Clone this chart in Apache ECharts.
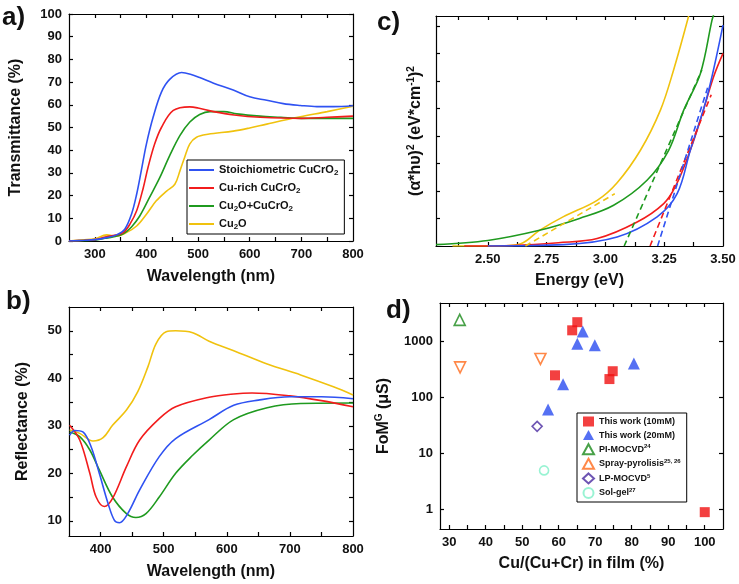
<!DOCTYPE html>
<html>
<head>
<meta charset="utf-8">
<script src="https://cdn.jsdelivr.net/npm/echarts@6/dist/echarts.min.js"></script>
<style>
  html, body { margin: 0; background: #fff; }
  #chart { width: 739px; height: 584px; }
</style>
</head>
<body>
<div id="chart"></div>
<script>
// a) transmittance, [wavelength nm, %]
var transStoich = [[250,0],[280,0.3],[300,0.6],[323,1.5],[342,2.7],[358,5.2],[371,11.8],[381,20.6],[390,31],[400,42.8],[413,54.6],[429,65.6],[445,71.2],[468,74.2],[485,73.5],[503,72],[530,69.5],[568,66.5],[600,63.5],[633,62],[665,60.5],[698,59.7],[730,59.2],[762,59.2],[800,59.6]]
var transCuRich = [[250,0],[280,0.3],[300,0.6],[320,1.8],[340,2.6],[355,3.7],[368,7.4],[381,13.3],[394,23.6],[403,32.4],[416,42.8],[429,50],[452,57.5],[484,59.1],[500,58.6],[530,57],[570,55.5],[620,54.5],[700,54],[750,54.5],[800,55]]
var transMix = [[250,0],[300,0.4],[320,1.2],[335,1.8],[355,3.2],[371,6.2],[387,11],[406,19.2],[426,28],[445,37.6],[465,46.5],[484,52.4],[503,55.7],[523,57],[550,57],[575,56],[620,55],[660,54.5],[700,54],[800,54]]
var transCu2O = [[250,0],[280,0.5],[300,1],[323,2.7],[342,2.2],[361,3.7],[381,6.6],[400,11.8],[419,17.7],[439,22],[455,25],[465,31],[474,36.9],[484,42.8],[497,45.7],[519,47],[568,48.4],[600,49.8],[633,51.5],[698,54.7],[750,57],[800,59.4]]

// b) reflectance, [wavelength nm, %]
var reflStoich = [[351,28],[359,29],[372,28.7],[385,25.6],[398,20],[412,13.6],[422,10.1],[430,9.6],[443,11.5],[462,16.5],[493,23.5],[519,27.3],[572,31.3],[611,34.3],[650,35.4],[700,36.1],[750,36.1],[800,35.7]]
var reflCuRich = [[351,30.1],[367,27],[383,20],[393,15],[406,13],[419,14.7],[441,21.4],[462,27],[493,31.5],[519,34],[572,36],[611,36.7],[640,36.9],[700,36.3],[750,35.3],[800,34]]
var reflMix = [[351,28.7],[367,27.7],[383,24.9],[398,20.7],[419,15],[441,11.5],[456,10.7],[472,11.5],[493,15],[519,20],[546,23.8],[572,27],[611,31.3],[664,33.8],[717,34.7],[800,34.8]]
var reflCu2O = [[351,29.1],[367,28.4],[388,26.8],[404,27.5],[419,30.1],[441,33.3],[459,37.2],[475,42.4],[488,47.3],[504,49.8],[519,50],[546,49.6],[572,47.8],[611,45.8],[664,43],[717,40.7],[769,38.2],[800,36.5]]

// c) Tauc plot, [energy eV, arb. units]
var taucStoich = [[2.5,0],[2.823,0.05],[3.05,0.33],[3.22,1.06],[3.305,1.9],[3.361,3.48],[3.432,5.42],[3.5,8.03]]
var taucCuRich = [[2.4,0],[2.61,0.02],[2.8,0.12],[2.965,0.27],[3.135,0.87],[3.248,1.54],[3.3,2.2],[3.361,3.48],[3.404,4.58],[3.46,6.15],[3.5,7.0]]
var taucMix = [[2.28,0.05],[2.5,0.2],[2.72,0.57],[2.89,1.0],[3.035,1.48],[3.177,2.39],[3.269,3.48],[3.333,4.94],[3.404,6.27],[3.453,8.2],[3.46,8.4]]
var taucCu2O = [[2.35,0],[2.55,0],[2.64,0.08],[2.72,0.57],[2.82,1.06],[2.965,1.66],[3.05,2.3],[3.149,3.48],[3.234,4.94],[3.29,6.4],[3.354,8.36]]
var fitStoich = [[3.222,0],[3.44,5.9]]
var fitCuRich = [[3.19,0],[3.45,5.5]]
var fitMix = [[3.08,0],[3.41,6.4]]
var fitCu2O = [[2.66,0],[3.04,1.9]]

// d) figure of merit, [Cu/(Cu+Cr) %, FoM uS]
var work10mM = [[63.7,1560],[65.1,2180],[59.0,245],[73.9,210],[74.8,290],[100,0.88]]
var work20mM = [[66.6,1480],[65.1,900],[69.9,845],[80.6,400],[61.2,170],[57.1,60]]
var piMocvd = [[32.9,2400]]
var sprayPyro = [[33,340],[55,480]]
var lpMocvd = [[54.1,30]]
var solGel = [[56,4.9]]

// ticks
var aXLabels = [300,400,500,600,700,800]
var aXTicks = [300,350,400,450,500,550,600,650,700,750]
var aYLabels = [0,10,20,30,40,50,60,70,80,90,100]
var bXLabels = [400,500,600,700,800]
var bXTicks = [400,450,500,550,600,650,700,750]
var bYLabels = [10,20,30,40,50]
var bYTicks = [10,15,20,25,30,35,40,45,50]
var cXLabels = [2.5,2.75,3.0,3.25,3.5]
var cXTicks = [2.375,2.5,2.625,2.75,2.875,3.0,3.125,3.25,3.375]
var cYTicks = [1,2,3,4,5,6,7,8]
var dXLabels = [30,40,50,60,70,80,90,100]
var dXTicks = [30,35,40,45,50,55,60,65,70,75,80,85,90,95,100]
var dYLabels = [1,10,100,1000]

var BLUE = '#2f52f2', RED = '#f21c1c', GREEN = '#1f9a1f', YELLOW = '#f0c20e'
var FONT = 'Liberation Sans, Arial, sans-serif'

var labelNames = {
  'Stoichiometric CuCrO2': 'Stoichiometric CuCrO{sub|2}',
  'Cu-rich CuCrO2': 'Cu-rich CuCrO{sub|2}',
  'Cu2O+CuCrO2': 'Cu{sub|2}O+CuCrO{sub|2}',
  'Cu2O': 'Cu{sub|2}O',
  'This work (10mM)': 'This work (10mM)',
  'This work (20mM)': 'This work (20mM)',
  'PI-MOCVD': 'PI-MOCVD{sup|24}',
  'Spray-pyrolisis': 'Spray-pyrolisis{sup|25, 26}',
  'LP-MOCVD': 'LP-MOCVD{sup|5}',
  'Sol-gel': 'Sol-gel{sup|27}'
}

var tickLabel = { fontFamily: FONT, fontWeight: 'bold', fontSize: 13, color: '#111', margin: 7 }
var titleStyle = {
  fontFamily: FONT, fontWeight: 'bold', fontSize: 16, color: '#111', lineHeight: 20,
  rich: { sup: { fontFamily: FONT, fontWeight: 'bold', fontSize: 10, color: '#111', verticalAlign: 'top', lineHeight: 12 } }
}

function axisPair(kind, grid, min, max, labels, ticks, name, gap, fmt, type) {
  var base = {
    type: type || 'value', gridIndex: grid, min: min, max: max,
    axisLine: { onZero: false, lineStyle: { color: '#000', width: 1.2 } },
    axisTick: { inside: true, length: 4, customValues: ticks, lineStyle: { color: '#000', width: 1.2 } },
    splitLine: { show: false }
  }
  var main = Object.assign({}, base, {
    position: kind === 'x' ? 'bottom' : 'left',
    name: name, nameLocation: 'middle', nameGap: gap, nameTextStyle: titleStyle,
    axisLabel: Object.assign({ customValues: labels, show: !!labels, formatter: fmt || function (v) { return String(v) } }, tickLabel)
  })
  var mirror = Object.assign({}, base, {
    position: kind === 'x' ? 'top' : 'right',
    axisLabel: { show: false }
  })
  return [main, mirror]
}

function curve(name, data, color, xi, dashed) {
  return {
    name: name, type: 'line', data: data, xAxisIndex: xi, yAxisIndex: xi,
    showSymbol: false, symbol: 'none', smooth: 0.35,
    lineStyle: { color: color, width: 1.6, type: dashed ? [6, 4] : 'solid' },
    itemStyle: { color: color }, z: 3
  }
}

function dots(name, data, symbol, size, color, filled, rotate) {
  return {
    name: name, type: 'scatter', data: data, xAxisIndex: 6, yAxisIndex: 6,
    symbol: symbol, symbolSize: size, symbolRotate: rotate || 0,
    itemStyle: filled ? { color: color } : { color: '#fff', borderColor: color, borderWidth: 1.6 }
  }
}

var xAxes = [].concat(
  axisPair('x', 0, 250, 800, aXLabels, aXTicks, 'Wavelength (nm)', 26),
  axisPair('x', 1, 2.28, 3.5, cXLabels, cXTicks, 'Energy (eV)', 25, function (v) { return v.toFixed(2) }),
  axisPair('x', 2, 350, 800, bXLabels, bXTicks, 'Wavelength (nm)', 26),
  axisPair('x', 3, 27.5, 105, dXLabels, dXTicks, 'Cu/(Cu+Cr) in film (%)', 25)
)
var yAxes = [].concat(
  axisPair('y', 0, 0, 100, aYLabels, aYLabels, 'Transmittance (%)', 43),
  axisPair('y', 1, 0, 8.36, null, cYTicks, '(α*hυ){sup|2} (eV*cm{sup|-1}){sup|2}', 10),
  axisPair('y', 2, 6.8, 55, bYLabels, bYTicks, 'Reflectance (%)', 36),
  axisPair('y', 3, 0.44, 4800, dYLabels, dYLabels, 'FoM{sup|G} (μS)', 46, null, 'log')
)

var chart = echarts.init(document.getElementById('chart'), null, { renderer: 'canvas' })
chart.setOption({
  animation: false,
  backgroundColor: '#fff',
  grid: [
    { left: 69, top: 14, width: 284, height: 227 },
    { left: 436, top: 16, width: 287, height: 230 },
    { left: 69, top: 307, width: 284, height: 229 },
    { left: 440, top: 303, width: 283, height: 226 }
  ],
  xAxis: xAxes,
  yAxis: yAxes,
  legend: [
    {
      data: ['Stoichiometric CuCrO2', 'Cu-rich CuCrO2', 'Cu2O+CuCrO2', 'Cu2O'],
      orient: 'vertical', left: 187, top: 160, padding: [3, 6, 3, 2], itemGap: 4,
      icon: 'rect', itemWidth: 25, itemHeight: 2,
      borderColor: '#000', borderWidth: 1, borderRadius: 0,
      selectedMode: false,
      formatter: function (n) { return labelNames[n] },
      textStyle: {
        fontFamily: FONT, fontWeight: 'bold', fontSize: 11, color: '#111', lineHeight: 14,
        rich: { sub: { fontFamily: FONT, fontWeight: 'bold', fontSize: 8, color: '#111', verticalAlign: 'bottom', lineHeight: 9 } }
      }
    },
    {
      data: ['This work (10mM)', 'This work (20mM)', 'PI-MOCVD', 'Spray-pyrolisis', 'LP-MOCVD', 'Sol-gel'],
      orient: 'vertical', left: 577, top: 413, padding: [3, 6, 3, 5], itemGap: 2.6,
      itemWidth: 11, itemHeight: 10, borderColor: '#000', borderWidth: 1, borderRadius: 0,
      selectedMode: false,
      formatter: function (n) { return labelNames[n] },
      textStyle: {
        fontFamily: FONT, fontWeight: 'bold', fontSize: 9, color: '#111', lineHeight: 11,
        rich: { sup: { fontFamily: FONT, fontWeight: 'bold', fontSize: 6, color: '#111', verticalAlign: 'top', lineHeight: 7 } }
      }
    }
  ],
  graphic: [
    { type: 'text', left: 2, top: 5, style: { text: 'a)', font: 'bold 26px ' + FONT, fill: '#111' } },
    { type: 'text', left: 377, top: 10, style: { text: 'c)', font: 'bold 26px ' + FONT, fill: '#111' } },
    { type: 'text', left: 6, top: 289, style: { text: 'b)', font: 'bold 26px ' + FONT, fill: '#111' } },
    { type: 'text', left: 386, top: 298, style: { text: 'd)', font: 'bold 26px ' + FONT, fill: '#111' } }
  ],
  series: [
    curve('Cu2O', transCu2O, YELLOW, 0),
    curve('Cu2O+CuCrO2', transMix, GREEN, 0),
    curve('Cu-rich CuCrO2', transCuRich, RED, 0),
    curve('Stoichiometric CuCrO2', transStoich, BLUE, 0),

    curve('c Cu2O', taucCu2O, YELLOW, 2),
    curve('c Cu2O+CuCrO2', taucMix, GREEN, 2),
    curve('c Cu-rich', taucCuRich, RED, 2),
    curve('c Stoich', taucStoich, BLUE, 2),
    curve('c fit Cu2O', fitCu2O, YELLOW, 2, true),
    curve('c fit mix', fitMix, GREEN, 2, true),
    curve('c fit Cu-rich', fitCuRich, RED, 2, true),
    curve('c fit Stoich', fitStoich, BLUE, 2, true),

    curve('b Cu2O', reflCu2O, YELLOW, 4),
    curve('b Cu2O+CuCrO2', reflMix, GREEN, 4),
    curve('b Cu-rich', reflCuRich, RED, 4),
    curve('b Stoich', reflStoich, BLUE, 4),

    dots('This work (10mM)', work10mM, 'rect', 10, '#f01010', true),
    dots('This work (20mM)', work20mM, 'triangle', 12, '#2a4cf0', true),
    dots('PI-MOCVD', piMocvd, 'triangle', 11, '#1a8a1a', false),
    dots('Spray-pyrolisis', sprayPyro, 'triangle', 11, '#ff6a1a', false, 180),
    dots('LP-MOCVD', lpMocvd, 'diamond', 10, '#4a2aa0', false),
    dots('Sol-gel', solGel, 'circle', 9, '#7ff0c8', false)
  ]
})
</script>
</body>
</html>
